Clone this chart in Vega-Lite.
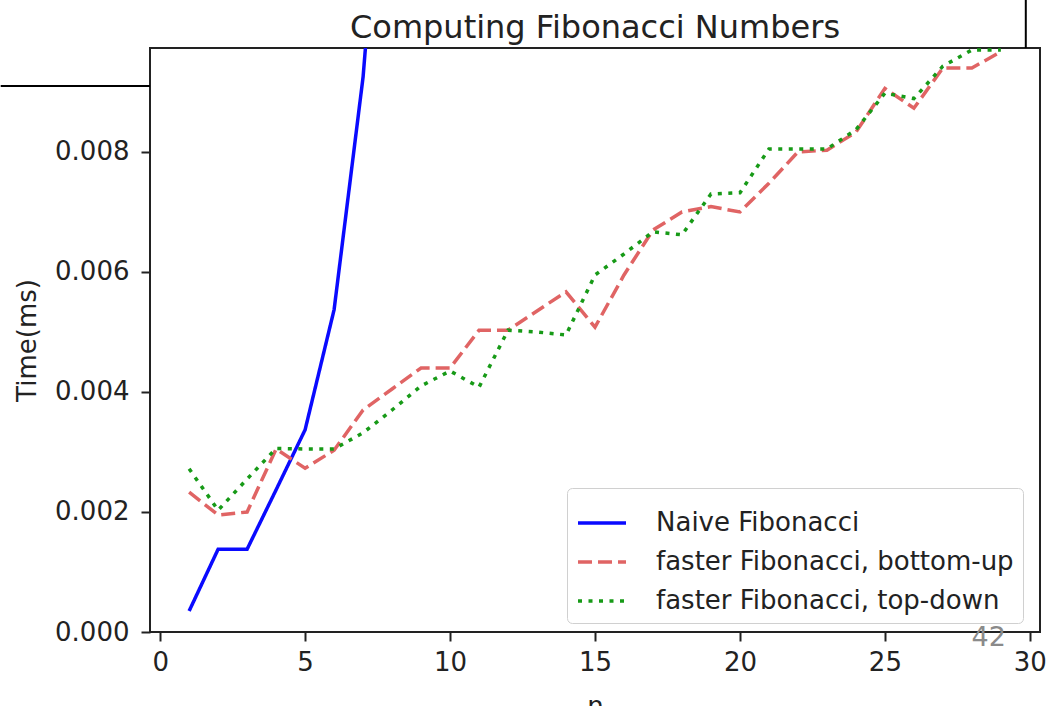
{
  "$schema": "https://vega.github.io/schema/vega-lite/v6.json",
  "width": 890,
  "height": 584,
  "autosize": {"type": "none"},
  "padding": {"left": 150, "top": 48, "right": 16, "bottom": 74},
  "background": "white",
  "config": {
    "font": "DejaVu Sans",
    "view": {"stroke": "#222222", "strokeWidth": 2},
    "axis": {
      "labelFontSize": 26,
      "labelColor": "#222222",
      "titleFontSize": 26,
      "titleFontWeight": "normal",
      "titleColor": "#222222",
      "tickSize": 9,
      "tickWidth": 2,
      "tickColor": "#222222",
      "domain": false,
      "grid": false
    },
    "legend": {
      "orient": "none",
      "legendX": 417,
      "legendY": 440,
      "fillColor": "white",
      "strokeColor": "#d0d0d0",
      "cornerRadius": 5,
      "padding": 9,
      "labelFontSize": 26,
      "labelColor": "#222222",
      "labelLimit": 0,
      "labelOffset": 28,
      "symbolType": "stroke",
      "symbolSize": 2304,
      "symbolStrokeWidth": 3.5,
      "rowPadding": 0
    }
  },
  "title": {
    "text": "Computing Fibonacci Numbers",
    "fontSize": 32,
    "fontWeight": "normal",
    "color": "#222222",
    "anchor": "middle",
    "frame": "group",
    "baseline": "bottom",
    "offset": 6,
    "dy": 85
  },
  "datasets": {
    "series": [
      {"n": 1, "time": 0.00035, "method": "Naive Fibonacci"},
      {"n": 2, "time": 0.00138, "method": "Naive Fibonacci"},
      {"n": 3, "time": 0.00138, "method": "Naive Fibonacci"},
      {"n": 4, "time": 0.00237, "method": "Naive Fibonacci"},
      {"n": 5, "time": 0.00337, "method": "Naive Fibonacci"},
      {"n": 6, "time": 0.00537, "method": "Naive Fibonacci"},
      {"n": 7, "time": 0.00925, "method": "Naive Fibonacci"},
      {"n": 8, "time": 0.0152, "method": "Naive Fibonacci"},
      {"n": 1, "time": 0.00233, "method": "faster Fibonacci, bottom-up"},
      {"n": 2, "time": 0.00195, "method": "faster Fibonacci, bottom-up"},
      {"n": 3, "time": 0.002, "method": "faster Fibonacci, bottom-up"},
      {"n": 4, "time": 0.00305, "method": "faster Fibonacci, bottom-up"},
      {"n": 5, "time": 0.00273, "method": "faster Fibonacci, bottom-up"},
      {"n": 6, "time": 0.00303, "method": "faster Fibonacci, bottom-up"},
      {"n": 7, "time": 0.0037, "method": "faster Fibonacci, bottom-up"},
      {"n": 8, "time": 0.00405, "method": "faster Fibonacci, bottom-up"},
      {"n": 9, "time": 0.0044, "method": "faster Fibonacci, bottom-up"},
      {"n": 10, "time": 0.0044, "method": "faster Fibonacci, bottom-up"},
      {"n": 11, "time": 0.00503, "method": "faster Fibonacci, bottom-up"},
      {"n": 12, "time": 0.00503, "method": "faster Fibonacci, bottom-up"},
      {"n": 13, "time": 0.00535, "method": "faster Fibonacci, bottom-up"},
      {"n": 14, "time": 0.00567, "method": "faster Fibonacci, bottom-up"},
      {"n": 15, "time": 0.00508, "method": "faster Fibonacci, bottom-up"},
      {"n": 16, "time": 0.00595, "method": "faster Fibonacci, bottom-up"},
      {"n": 17, "time": 0.0067, "method": "faster Fibonacci, bottom-up"},
      {"n": 18, "time": 0.007, "method": "faster Fibonacci, bottom-up"},
      {"n": 19, "time": 0.00709, "method": "faster Fibonacci, bottom-up"},
      {"n": 20, "time": 0.007, "method": "faster Fibonacci, bottom-up"},
      {"n": 21, "time": 0.00748, "method": "faster Fibonacci, bottom-up"},
      {"n": 22, "time": 0.008, "method": "faster Fibonacci, bottom-up"},
      {"n": 23, "time": 0.00803, "method": "faster Fibonacci, bottom-up"},
      {"n": 24, "time": 0.00833, "method": "faster Fibonacci, bottom-up"},
      {"n": 25, "time": 0.00906, "method": "faster Fibonacci, bottom-up"},
      {"n": 26, "time": 0.00873, "method": "faster Fibonacci, bottom-up"},
      {"n": 27, "time": 0.0094, "method": "faster Fibonacci, bottom-up"},
      {"n": 28, "time": 0.0094, "method": "faster Fibonacci, bottom-up"},
      {"n": 29, "time": 0.00967, "method": "faster Fibonacci, bottom-up"},
      {"n": 1, "time": 0.00272, "method": "faster Fibonacci, top-down"},
      {"n": 2, "time": 0.00203, "method": "faster Fibonacci, top-down"},
      {"n": 3, "time": 0.00255, "method": "faster Fibonacci, top-down"},
      {"n": 4, "time": 0.00306, "method": "faster Fibonacci, top-down"},
      {"n": 5, "time": 0.00305, "method": "faster Fibonacci, top-down"},
      {"n": 6, "time": 0.00305, "method": "faster Fibonacci, top-down"},
      {"n": 7, "time": 0.00332, "method": "faster Fibonacci, top-down"},
      {"n": 8, "time": 0.0037, "method": "faster Fibonacci, top-down"},
      {"n": 9, "time": 0.0041, "method": "faster Fibonacci, top-down"},
      {"n": 10, "time": 0.00435, "method": "faster Fibonacci, top-down"},
      {"n": 11, "time": 0.00408, "method": "faster Fibonacci, top-down"},
      {"n": 12, "time": 0.00503, "method": "faster Fibonacci, top-down"},
      {"n": 13, "time": 0.005, "method": "faster Fibonacci, top-down"},
      {"n": 14, "time": 0.00495, "method": "faster Fibonacci, top-down"},
      {"n": 15, "time": 0.00595, "method": "faster Fibonacci, top-down"},
      {"n": 16, "time": 0.0063, "method": "faster Fibonacci, top-down"},
      {"n": 17, "time": 0.00667, "method": "faster Fibonacci, top-down"},
      {"n": 18, "time": 0.00662, "method": "faster Fibonacci, top-down"},
      {"n": 19, "time": 0.0073, "method": "faster Fibonacci, top-down"},
      {"n": 20, "time": 0.00732, "method": "faster Fibonacci, top-down"},
      {"n": 21, "time": 0.00805, "method": "faster Fibonacci, top-down"},
      {"n": 22, "time": 0.00805, "method": "faster Fibonacci, top-down"},
      {"n": 23, "time": 0.00805, "method": "faster Fibonacci, top-down"},
      {"n": 24, "time": 0.00837, "method": "faster Fibonacci, top-down"},
      {"n": 25, "time": 0.00898, "method": "faster Fibonacci, top-down"},
      {"n": 26, "time": 0.00889, "method": "faster Fibonacci, top-down"},
      {"n": 27, "time": 0.00943, "method": "faster Fibonacci, top-down"},
      {"n": 28, "time": 0.0097, "method": "faster Fibonacci, top-down"},
      {"n": 29, "time": 0.0097, "method": "faster Fibonacci, top-down"}
    ],
    "pageNumber": [
      {"n": 28.58, "time": -0.0001, "label": "42"}
    ],
    "hLine": [
      {"n": -5.5, "n2": -0.35, "time": 0.0091}
    ],
    "vLine": [
      {"n": 29.86, "time": 0.009733, "time2": 0.01055}
    ]
  },
  "layer": [
    {
      "data": {"name": "series"},
      "mark": {"type": "line", "clip": true, "strokeWidth": 3.5},
      "encoding": {
        "x": {
          "field": "n",
          "type": "quantitative",
          "scale": {"domain": [-0.35, 30.35], "nice": false, "zero": false},
          "axis": {"values": [0, 5, 10, 15, 20, 25, 30], "title": "n", "labelPadding": 8, "titlePadding": 18}
        },
        "y": {
          "field": "time",
          "type": "quantitative",
          "scale": {"domain": [0, 0.009733], "nice": false},
          "axis": {"values": [0, 0.002, 0.004, 0.006, 0.008], "format": ".3f", "title": "Time(ms)", "labelPadding": 12, "titlePadding": 14}
        },
        "color": {
          "field": "method",
          "type": "nominal",
          "title": null,
          "scale": {
            "domain": ["Naive Fibonacci", "faster Fibonacci, bottom-up", "faster Fibonacci, top-down"],
            "range": ["#0a0aff", "#e06464", "#179a17"]
          }
        },
        "strokeDash": {
          "field": "method",
          "type": "nominal",
          "title": null,
          "scale": {
            "domain": ["Naive Fibonacci", "faster Fibonacci, bottom-up", "faster Fibonacci, top-down"],
            "range": [[1, 0], [14, 6], [4, 6.5]]
          }
        }
      }
    },
    {
      "data": {"name": "pageNumber"},
      "mark": {"type": "text", "clip": false, "fontSize": 27, "color": "#8a8a8a", "align": "center", "baseline": "middle"},
      "encoding": {
        "x": {"field": "n", "type": "quantitative"},
        "y": {"field": "time", "type": "quantitative"},
        "text": {"field": "label"}
      }
    },
    {
      "data": {"name": "hLine"},
      "mark": {"type": "rule", "clip": false, "color": "black", "strokeWidth": 2},
      "encoding": {
        "x": {"field": "n", "type": "quantitative"},
        "x2": {"field": "n2"},
        "y": {"field": "time", "type": "quantitative"}
      }
    },
    {
      "data": {"name": "vLine"},
      "mark": {"type": "rule", "clip": false, "color": "black", "strokeWidth": 2},
      "encoding": {
        "x": {"field": "n", "type": "quantitative"},
        "y": {"field": "time", "type": "quantitative"},
        "y2": {"field": "time2"}
      }
    }
  ]
}
